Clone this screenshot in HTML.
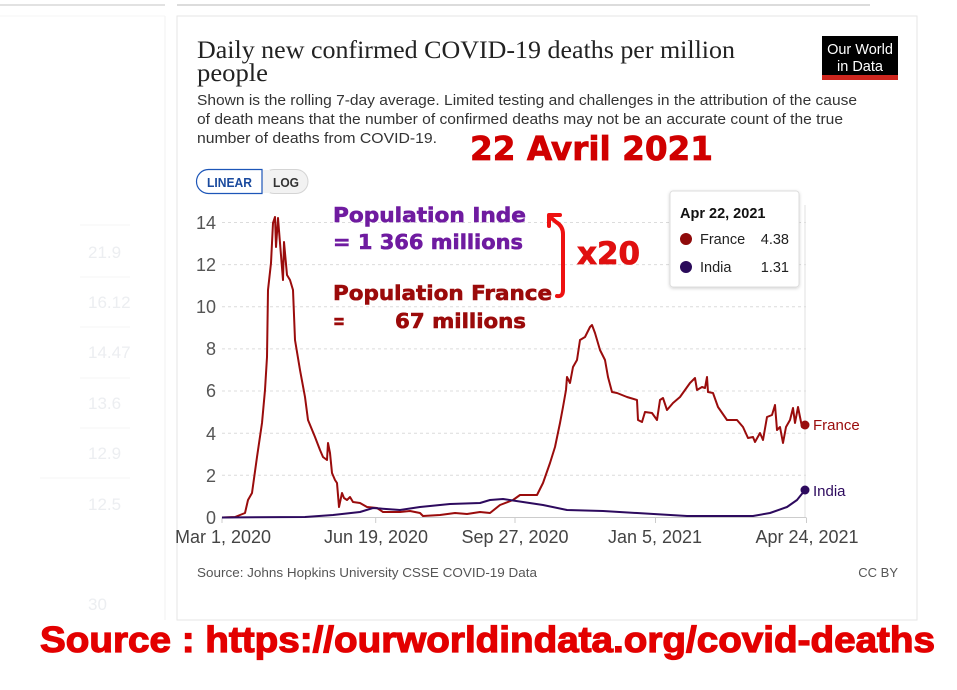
<!DOCTYPE html>
<html><head><meta charset="utf-8"><style>
html,body{margin:0;padding:0;background:#fff;}
svg{display:block;}
</style></head><body>
<svg width="957" height="690" viewBox="0 0 957 690" xmlns="http://www.w3.org/2000/svg">
<defs>
<filter id="sh" x="-10%" y="-10%" width="120%" height="130%"><feDropShadow dx="0" dy="1" stdDeviation="1.5" flood-color="#000" flood-opacity="0.18"/></filter>
</defs>
<rect width="957" height="690" fill="#fff"/>
<!-- background cards -->
<line x1="0" y1="5" x2="165" y2="5" stroke="#d8d8d8" stroke-width="1.5"/>
<line x1="177" y1="5" x2="870" y2="5" stroke="#d0d0d0" stroke-width="1.5"/>
<line x1="165" y1="16" x2="165" y2="620" stroke="#f0f0f0" stroke-width="1"/>
<line x1="0" y1="16" x2="165" y2="16" stroke="#f4f4f4" stroke-width="1"/>
<g font-family="Liberation Sans, sans-serif" font-size="17" fill="#eceef1">
<text x="88" y="258">21.9</text>
<text x="88" y="308">16.12</text>
<text x="88" y="358">14.47</text>
<text x="88" y="409">13.6</text>
<text x="88" y="459">12.9</text>
<text x="88" y="510">12.5</text>
<text x="88" y="610">30</text>
</g>
<g stroke="#f5f5f5" stroke-width="1">
<line x1="80" y1="225" x2="130" y2="225"/><line x1="80" y1="277" x2="130" y2="277"/>
<line x1="80" y1="327" x2="130" y2="327"/><line x1="80" y1="378" x2="130" y2="378"/>
<line x1="80" y1="428" x2="130" y2="428"/><line x1="40" y1="478" x2="130" y2="478"/>
</g>
<!-- main card -->
<rect x="177" y="16" width="740" height="604" fill="#fff" stroke="#e6e6e6" stroke-width="1"/>
<!-- title -->
<text x="197" y="58" font-family="Liberation Serif, serif" font-size="25" fill="#222" textLength="538" lengthAdjust="spacingAndGlyphs">Daily new confirmed COVID-19 deaths per million</text>
<text x="197" y="81" font-family="Liberation Serif, serif" font-size="25" fill="#222" textLength="71" lengthAdjust="spacingAndGlyphs">people</text>
<!-- logo -->
<rect x="822" y="36" width="76" height="44" fill="#000"/>
<rect x="822" y="75" width="76" height="5" fill="#ce261e"/>
<text x="860" y="54" text-anchor="middle" font-family="Liberation Sans, sans-serif" font-size="14.5" fill="#fff">Our World</text>
<text x="860" y="71" text-anchor="middle" font-family="Liberation Sans, sans-serif" font-size="14.5" fill="#fff">in Data</text>
<!-- subtitle -->
<g font-family="Liberation Sans, sans-serif" font-size="15" fill="#333">
<text x="197" y="105" textLength="660" lengthAdjust="spacingAndGlyphs">Shown is the rolling 7-day average. Limited testing and challenges in the attribution of the cause</text>
<text x="197" y="124" textLength="646" lengthAdjust="spacingAndGlyphs">of death means that the number of confirmed deaths may not be an accurate count of the true</text>
<text x="197" y="143" textLength="240" lengthAdjust="spacingAndGlyphs">number of deaths from COVID-19.</text>
</g>
<!-- 22 Avril 2021 -->
<text x="470" y="160" font-family="DejaVu Sans, sans-serif" font-weight="bold" font-size="33" fill="#d00000" stroke="#d00000" stroke-width="0.8" textLength="243" lengthAdjust="spacingAndGlyphs">22 Avril 2021</text>
<!-- buttons -->
<rect x="262" y="169.5" width="46" height="24" rx="12" fill="#f2f2f2" stroke="#d4d4d4"/>
<rect x="250" y="170" width="20" height="23" fill="#f2f2f2"/>
<path d="M262,169.5 H208.5 A12,12 0 0 0 208.5,193.5 H262 Z" fill="#fff" stroke="#1d56b8" stroke-width="1.2"/>
<text x="207" y="187" font-family="Liberation Sans, sans-serif" font-size="13" font-weight="bold" fill="#1a4a9e" textLength="45" lengthAdjust="spacingAndGlyphs">LINEAR</text>
<text x="273" y="187" font-family="Liberation Sans, sans-serif" font-size="13" font-weight="bold" fill="#333" textLength="26" lengthAdjust="spacingAndGlyphs">LOG</text>
<!-- gridlines -->
<g stroke="#dcdcdc" stroke-width="1" stroke-dasharray="3,3">
<line x1="222" y1="222.5" x2="806" y2="222.5"/>
<line x1="222" y1="264.6" x2="806" y2="264.6"/>
<line x1="222" y1="306.8" x2="806" y2="306.8"/>
<line x1="222" y1="348.9" x2="806" y2="348.9"/>
<line x1="222" y1="391" x2="806" y2="391"/>
<line x1="222" y1="433.2" x2="806" y2="433.2"/>
<line x1="222" y1="475.3" x2="806" y2="475.3"/>
</g>
<line x1="222" y1="517.5" x2="806" y2="517.5" stroke="#ccc" stroke-width="1"/>
<g stroke="#ccc" stroke-width="1">
<line x1="222" y1="517.5" x2="222" y2="523"/>
<line x1="375.7" y1="517.5" x2="375.7" y2="523"/>
<line x1="515" y1="517.5" x2="515" y2="523"/>
<line x1="655.5" y1="517.5" x2="655.5" y2="523"/>
<line x1="806.5" y1="517.5" x2="806.5" y2="523"/>
</g>
<line x1="805" y1="205" x2="805" y2="517" stroke="#e0e0e0" stroke-width="1"/>
<!-- y labels -->
<g font-family="Liberation Sans, sans-serif" font-size="18" fill="#555" text-anchor="end">
<text x="216" y="229">14</text>
<text x="216" y="271">12</text>
<text x="216" y="313">10</text>
<text x="216" y="355">8</text>
<text x="216" y="397">6</text>
<text x="216" y="440">4</text>
<text x="216" y="482">2</text>
<text x="216" y="524">0</text>
</g>
<!-- x labels -->
<g font-family="Liberation Sans, sans-serif" font-size="18" fill="#444" text-anchor="middle">
<text x="223" y="543">Mar 1, 2020</text>
<text x="376" y="543">Jun 19, 2020</text>
<text x="515" y="543">Sep 27, 2020</text>
<text x="655" y="543">Jan 5, 2021</text>
<text x="807" y="543">Apr 24, 2021</text>
</g>
<!-- series -->
<polyline fill="none" stroke="#9a0c0c" stroke-width="2" stroke-linejoin="round" points="222,517.5 235,517 245,513 248,500 252,493 257,457 262,423 265,390 267,357 268,290 271,263 273,223 275,217 276,247 278,218 280,243 283,280 284,242 287,275 290,280 293,290 295,340 300,370 305,397 308,420 315,437 320,450 323,457 327,460 328,443 330,453 332,473 335,480 337,483 339,507 342,493 344,498 347,500 350,497 353,502 360,503 367,507 377,508 383,512 400,512 410,511 420,513 423,516 440,515 455,513 467,514 480,512 490,513 500,505 513,500 520,495 537,495 543,483 550,463 555,447 560,423 563,407 566,390 567,377 570,383 573,367 577,360 580,340 585,337 590,327 592,325 595,333 600,350 605,360 608,377 612,392 617,393 627,397 637,400 638,420 642,422 645,412 652,413 657,420 660,400 663,398 667,410 673,403 680,397 690,383 695,378 697,390 702,387 705,388 707,377 708,392 713,393 718,407 727,420 737,420 743,427 748,438 753,437 755,442 760,433 763,440 767,417 772,415 775,405 777,430 780,427 783,443 786,427 790,420 793,408 795,423 798,407 802,427 805,425"/>
<polyline fill="none" stroke="#2d0a5e" stroke-width="2" stroke-linejoin="round" points="222,517.5 305,517 333,515 360,512 373,508 400,510 420,507 450,504 480,503 490,500 503,499 523,502 543,505 567,510 603,511 637,513 687,516 753,516 770,513 787,507 797,500 805,490"/>
<circle cx="805" cy="425" r="4.5" fill="#9a0c0c"/>
<circle cx="805" cy="490" r="4.5" fill="#2d0a5e"/>
<text x="813" y="430" font-family="Liberation Sans, sans-serif" font-size="15" fill="#9a0c0c">France</text>
<text x="813" y="496" font-family="Liberation Sans, sans-serif" font-size="15" fill="#2d0a5e">India</text>
<!-- tooltip -->
<rect x="670" y="191" width="129" height="96" rx="3" fill="#fff" stroke="#ddd" filter="url(#sh)"/>
<text x="680" y="218" font-family="Liberation Sans, sans-serif" font-size="14.5" font-weight="bold" fill="#111">Apr 22, 2021</text>
<circle cx="686" cy="239" r="6" fill="#8f0a0a"/>
<circle cx="686" cy="267" r="6" fill="#2a0a5a"/>
<g font-family="Liberation Sans, sans-serif" font-size="14.5" fill="#222">
<text x="700" y="244">France</text>
<text x="789" y="244" text-anchor="end">4.38</text>
<text x="700" y="272">India</text>
<text x="789" y="272" text-anchor="end">1.31</text>
</g>
<!-- annotations -->
<g font-family="DejaVu Sans, sans-serif" font-weight="bold" font-size="20" stroke-width="0.6">
<text x="333" y="222" fill="#6f1ba0" stroke="#6f1ba0" textLength="193" lengthAdjust="spacingAndGlyphs">Population Inde</text>
<text x="333" y="249" fill="#6f1ba0" stroke="#6f1ba0" textLength="190" lengthAdjust="spacingAndGlyphs">= 1 366 millions</text>
<text x="333" y="300" fill="#9b0a0a" stroke="#9b0a0a" textLength="219" lengthAdjust="spacingAndGlyphs">Population France</text>
<text x="333" y="328" fill="#9b0a0a" stroke="#9b0a0a" textLength="12" lengthAdjust="spacingAndGlyphs">=</text>
<text x="395" y="328" fill="#9b0a0a" stroke="#9b0a0a" textLength="131" lengthAdjust="spacingAndGlyphs">67 millions</text>
</g>
<path d="M557,296 Q563,297 563,290 L563,234 Q563,226 556,222 L549,216" fill="none" stroke="#ee1111" stroke-width="4" stroke-linecap="round" stroke-linejoin="round"/>
<path d="M549,226 L549,215 L560,215" fill="none" stroke="#ee1111" stroke-width="4" stroke-linecap="round" stroke-linejoin="round"/>
<text x="577" y="264" font-family="DejaVu Sans, sans-serif" font-weight="bold" font-size="31" fill="#e01010" stroke="#e01010" stroke-width="0.8" textLength="63" lengthAdjust="spacingAndGlyphs">x20</text>
<!-- source -->
<text x="197" y="577" font-family="Liberation Sans, sans-serif" font-size="13" fill="#555" textLength="340" lengthAdjust="spacingAndGlyphs">Source: Johns Hopkins University CSSE COVID-19 Data</text>
<text x="898" y="577" text-anchor="end" font-family="Liberation Sans, sans-serif" font-size="13" fill="#555">CC BY</text>
<!-- big red source -->
<text x="40" y="652" font-family="Liberation Sans, sans-serif" font-weight="bold" font-size="36" fill="#e30000" stroke="#e30000" stroke-width="1.2" textLength="895" lengthAdjust="spacingAndGlyphs">Source : https://ourworldindata.org/covid-deaths</text>
</svg>
</body></html>
